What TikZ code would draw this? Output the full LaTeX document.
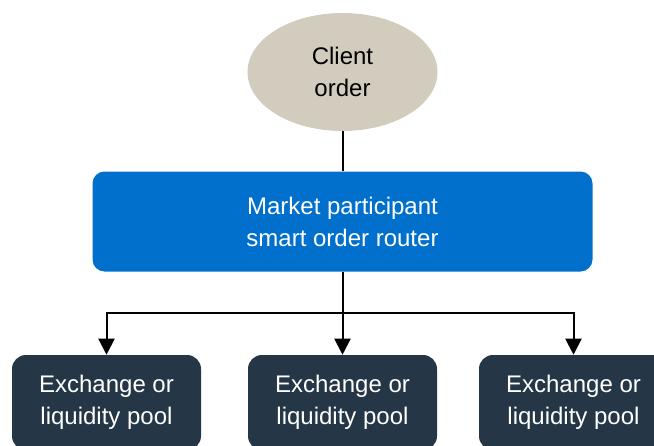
\documentclass[tikz,border=0pt]{standalone}
\usepackage{fontspec}
\setmainfont{Liberation Sans}
\usetikzlibrary{arrows.meta,shapes.geometric}
\definecolor{ovalfill}{HTML}{D1CCBD}
\definecolor{routerblue}{HTML}{0070CC}
\definecolor{poolnavy}{HTML}{253746}
\tikzset{
  lbl/.style={font=\fontsize{18pt}{24pt}\selectfont, align=center},
  pool/.style={lbl, rectangle, rounded corners=10.5pt, fill=poolnavy, text=white,
    minimum width=141.75pt, minimum height=71.25pt, inner sep=0pt},
  conn/.style={line width=1.5pt, black},
  arr/.style={conn, -{Triangle[width=12pt,length=12pt]}}
}
\begin{document}
\begin{tikzpicture}[x=0.75pt,y=-0.75pt]
\clip (0,0) rectangle (654,446);
\node[lbl, ellipse, fill=ovalfill, minimum width=142.5pt, minimum height=88.5pt, inner sep=0pt] (client) at (342.5,72) {Client\\order};
\node[lbl, rectangle, rounded corners=9pt, fill=routerblue, text=white, minimum width=375pt, minimum height=75pt, inner sep=0pt] (router) at (342.5,221.5) {Market participant\\smart order router};
\node[pool] (ex1) at (106.5,402.5) {Exchange or\\liquidity pool};
\node[pool] (ex2) at (342.5,402.5) {Exchange or\\liquidity pool};
\node[pool] (ex3) at (573.5,402.5) {Exchange or\\liquidity pool};
\coordinate (split) at (342.5,313);
\draw[conn] (client.south) -- (router.north);
\draw[arr] (router.south) -- (ex2.north);
\draw[arr] (split) -| (ex1.north);
\draw[arr] (split) -| (ex3.north);
\end{tikzpicture}
\end{document}
